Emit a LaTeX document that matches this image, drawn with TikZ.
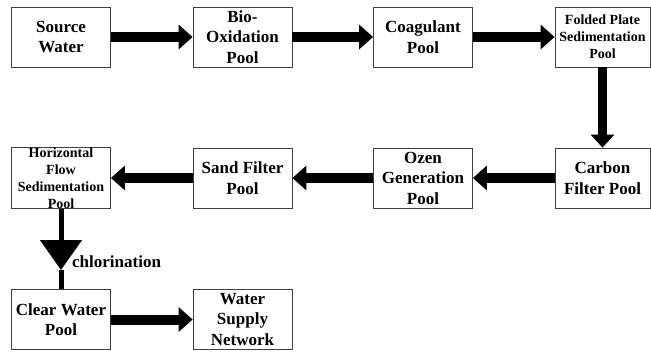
\documentclass[tikz,border=0pt]{standalone}
\usepackage{fontspec}
\setmainfont{Liberation Serif}
\usetikzlibrary{arrows.meta}
\begin{document}
\begin{tikzpicture}[x=1pt, y=-1pt,
    pool/.style={draw=black!75, line width=0.8pt, minimum width=99pt, minimum height=60pt,
        inner sep=0pt, align=center, font=\bfseries\fontsize{17}{20.5}\selectfont},
    smallpool/.style={pool, font=\bfseries\fontsize{14}{17}\selectfont},
    flow/.style={line width=10pt, -{Triangle[length=14pt, width=24pt]}}]
    \useasboundingbox (0,0) rectangle (651,351);

    % Draw nodes for the first row
    \node[pool] (source) at (61, 37) {Source\\Water};
    \node[pool] (bio) at (242.5, 37) {Bio-\\Oxidation\\Pool};
    \node[pool] (coag) at (423, 37) {Coagulant\\Pool};
    \node[smallpool, minimum width=95pt] (folded) at (602.5, 37) {Folded Plate\\Sedimentation\\Pool};

    % Draw nodes for the second row
    \node[pool, minimum width=95pt] (carbon) at (602.5, 178) {Carbon\\Filter Pool};
    \node[pool] (ozen) at (423, 178) {Ozen\\Generation\\Pool};
    \node[pool] (sand) at (242.5, 178) {Sand Filter\\Pool};
    \node[smallpool] (horiz) at (61, 178) {Horizontal\\Flow\\Sedimentation\\Pool};

    % Draw nodes for the third row
    \node[pool] (clear) at (61, 319.5) {Clear Water\\Pool};
    \node[pool] (supply) at (242.5, 319.5) {Water\\Supply\\Network};

    % Draw arrows for the first row
    \draw[flow] (source) -- (bio);
    \draw[flow] (bio) -- (coag);
    \draw[flow] (coag) -- (folded);
    \draw[line width=9pt, -{Triangle[length=13pt, width=23pt]}] (folded) -- (carbon);

    % Draw arrows for the second row
    \draw[flow] (carbon) -- (ozen);
    \draw[flow] (ozen) -- (sand);
    \draw[flow] (sand) -- (horiz);

    % Draw chlorination step
    \coordinate (chl) at (61, 270);
    \draw[line width=5pt, -{Triangle[length=30pt, width=41pt]}] (horiz.south) -- (chl);
    \draw[line width=5pt] (chl) -- (clear.north);
    \node[anchor=base west, inner sep=0pt, font=\bfseries\fontsize{17}{20.5}\selectfont] (chlab) at (72, 267) {chlorination};

    % Draw arrow for the third row
    \draw[flow] (clear) -- (supply);
\end{tikzpicture}
\end{document}
